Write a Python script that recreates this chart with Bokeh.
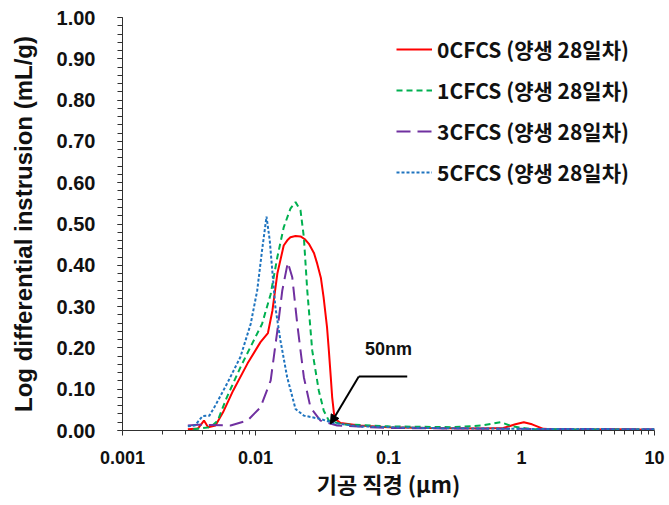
from bokeh.plotting import figure
from bokeh.models import (Range1d, FixedTicker, SingleIntervalTicker, NumeralTickFormatter,
                          CustomJSTickFormatter, Legend, LegendItem, Arrow, NormalHead, Label)
from bokeh.embed import file_html
from bokeh.resources import INLINE

# ---- data (pore diameter in um, log differential intrusion in mL/g) ----
x_0cfcs = [0.0031, 0.0037, 0.0041, 0.0044, 0.0050, 0.0057, 0.0068, 0.0087, 0.0109, 0.0124,
           0.0134, 0.0146, 0.0163, 0.0175, 0.0183, 0.0200, 0.0218, 0.0235, 0.0252, 0.0275,
           0.0291, 0.0310, 0.0325, 0.0345, 0.0356, 0.0368, 0.0377, 0.0393, 0.0436, 0.06,
           0.1, 0.2, 0.5, 0.73, 0.9, 1.04, 1.2, 1.46, 2.0, 5.0, 10.0]
y_0cfcs = [0.003, 0.005, 0.024, 0.008, 0.012, 0.044, 0.097, 0.162, 0.214, 0.236,
           0.290, 0.380, 0.448, 0.462, 0.468, 0.471, 0.470, 0.463, 0.452, 0.430,
           0.404, 0.370, 0.323, 0.250, 0.194, 0.130, 0.081, 0.029, 0.018, 0.012,
           0.008, 0.006, 0.005, 0.006, 0.015, 0.020, 0.015, 0.004, 0.002, 0.003, 0.002]

x_1cfcs = [0.0034, 0.0046, 0.0052, 0.0061, 0.0077, 0.0097, 0.0112, 0.0130, 0.0146, 0.0163,
           0.0183, 0.0200, 0.0218, 0.0231, 0.0245, 0.0267, 0.0299, 0.0326, 0.0356, 0.045,
           0.1, 0.3, 0.5, 0.7, 0.85, 1.2, 10.0]
y_1cfcs = [0.003, 0.008, 0.024, 0.081, 0.153, 0.218, 0.258, 0.330, 0.420, 0.492,
           0.537, 0.553, 0.533, 0.468, 0.339, 0.194, 0.097, 0.048, 0.024, 0.015,
           0.010, 0.008, 0.012, 0.020, 0.010, 0.003, 0.002]

x_3cfcs = [0.0031, 0.0037, 0.0065, 0.0087, 0.0109, 0.0130, 0.0146, 0.0159, 0.0175, 0.0189,
           0.0206, 0.0231, 0.0259, 0.0308, 0.0411, 0.1, 1.0, 10.0]
y_3cfcs = [0.012, 0.014, 0.012, 0.024, 0.056, 0.121, 0.242, 0.339, 0.407, 0.371,
           0.258, 0.129, 0.056, 0.024, 0.012, 0.006, 0.004, 0.003]

x_5cfcs = [0.0031, 0.0035, 0.0040, 0.0045, 0.0049, 0.0061, 0.0077, 0.0092, 0.0103, 0.0112,
           0.0121, 0.0128, 0.0141, 0.0154, 0.0173, 0.0200, 0.0231, 0.0308, 0.0388, 0.06,
           0.2, 1.0, 10.0]
y_5cfcs = [0.010, 0.012, 0.035, 0.036, 0.056, 0.113, 0.178, 0.258, 0.339, 0.436,
           0.518, 0.460, 0.299, 0.218, 0.129, 0.052, 0.036, 0.028, 0.018, 0.010,
           0.006, 0.004, 0.003]

series_labels = ["0CFCS (양생 28일차)", "1CFCS (양생 28일차)", "3CFCS (양생 28일차)", "5CFCS (양생 28일차)"]
x_ticks = [0.001, 0.01, 0.1, 1, 10]
x_minor = [m * d for d in [0.001, 0.01, 0.1, 1] for m in range(2, 10)]
arrow_label = "50nm"
arrow_label_pos = (0.0665, 0.174)
arrow_path_x = [0.1383, 0.0598, 0.0366]
arrow_path_y = [0.131, 0.131, 0.016]

# ---- figure ----
p = figure(width=669, height=505, x_axis_type="log",
           x_range=Range1d(0.001, 10), y_range=Range1d(0, 1),
           output_backend="svg", toolbar_location=None,
           min_border_left=122, min_border_right=15, min_border_top=17, min_border_bottom=75)
p.outline_line_color = None
p.xgrid.visible = False
p.ygrid.visible = False
p.background_fill_color = "white"

tick_font = "Liberation Sans"

p.xaxis.ticker = FixedTicker(ticks=x_ticks, minor_ticks=x_minor)
p.xaxis.formatter = CustomJSTickFormatter(code="return tick.toString();")
p.yaxis.ticker = SingleIntervalTicker(interval=0.1, num_minor_ticks=5)
p.yaxis.formatter = NumeralTickFormatter(format="0.00")

for ax in (p.xaxis[0], p.yaxis[0]):
    ax.axis_line_color = "#303030"
    ax.major_tick_line_color = "#303030"
    ax.minor_tick_line_color = "#303030"
    ax.major_tick_in = 0
    ax.minor_tick_in = 0
    ax.major_tick_out = 5
    ax.minor_tick_out = 4
    ax.major_label_text_font = tick_font
    ax.major_label_text_font_style = "bold"
    ax.major_label_text_color = "#111111"
    ax.axis_label_text_font_style = "bold"
    ax.axis_label_text_color = "#111111"

p.yaxis.minor_tick_out = 5
p.yaxis.major_label_text_font_size = "20px"
p.yaxis.major_label_standoff = 22
p.yaxis.axis_label = "Log differential instrusion (mL/g)"
p.yaxis.axis_label_text_font = tick_font
p.yaxis.axis_label_text_font_size = "24px"
p.yaxis.axis_label_standoff = 17

p.xaxis.major_label_text_font_size = "18px"
p.xaxis.major_label_standoff = 15
p.xaxis.axis_label = "기공 직경 (μm)"
p.xaxis.axis_label_text_font = "Noto Sans CJK KR"
p.xaxis.axis_label_text_font_size = "22px"
p.xaxis.axis_label_standoff = 0

r0 = p.line(x_0cfcs, y_0cfcs, line_color="#ff0000", line_width=2)
r1 = p.line(x_1cfcs, y_1cfcs, line_color="#00b050", line_width=2, line_dash="6 4")
r3 = p.line(x_3cfcs, y_3cfcs, line_color="#7030a0", line_width=2, line_dash="14 7")
r5 = p.line(x_5cfcs, y_5cfcs, line_color="#1f74bf", line_width=2, line_dash="3 2")

legend = Legend(items=[LegendItem(label=series_labels[0], renderers=[r0]),
                       LegendItem(label=series_labels[1], renderers=[r1]),
                       LegendItem(label=series_labels[2], renderers=[r3]),
                       LegendItem(label=series_labels[3], renderers=[r5])],
                location=(274, 243), padding=0, margin=0,
                border_line_color=None, background_fill_alpha=0,
                glyph_width=36, glyph_height=30, label_height=30, spacing=11,
                label_standoff=5,
                label_text_font="Noto Sans CJK KR", label_text_font_style="bold",
                label_text_font_size="21px", label_text_color="#111111")
p.add_layout(legend, "center")

# annotation: horizontal leader + arrow to 50 nm
p.line(arrow_path_x[:2], arrow_path_y[:2], line_color="black", line_width=2)
p.add_layout(Arrow(end=NormalHead(size=9, fill_color="black", line_color="black"),
                   x_start=arrow_path_x[1], y_start=arrow_path_y[1],
                   x_end=arrow_path_x[2], y_end=arrow_path_y[2],
                   line_color="black", line_width=2))
p.add_layout(Label(x=arrow_label_pos[0], y=arrow_label_pos[1], text=arrow_label,
                   text_font=tick_font, text_font_style="bold", text_font_size="18px",
                   text_color="#111111", text_baseline="bottom"))

open("out.html", "w").write(file_html(p, INLINE))
